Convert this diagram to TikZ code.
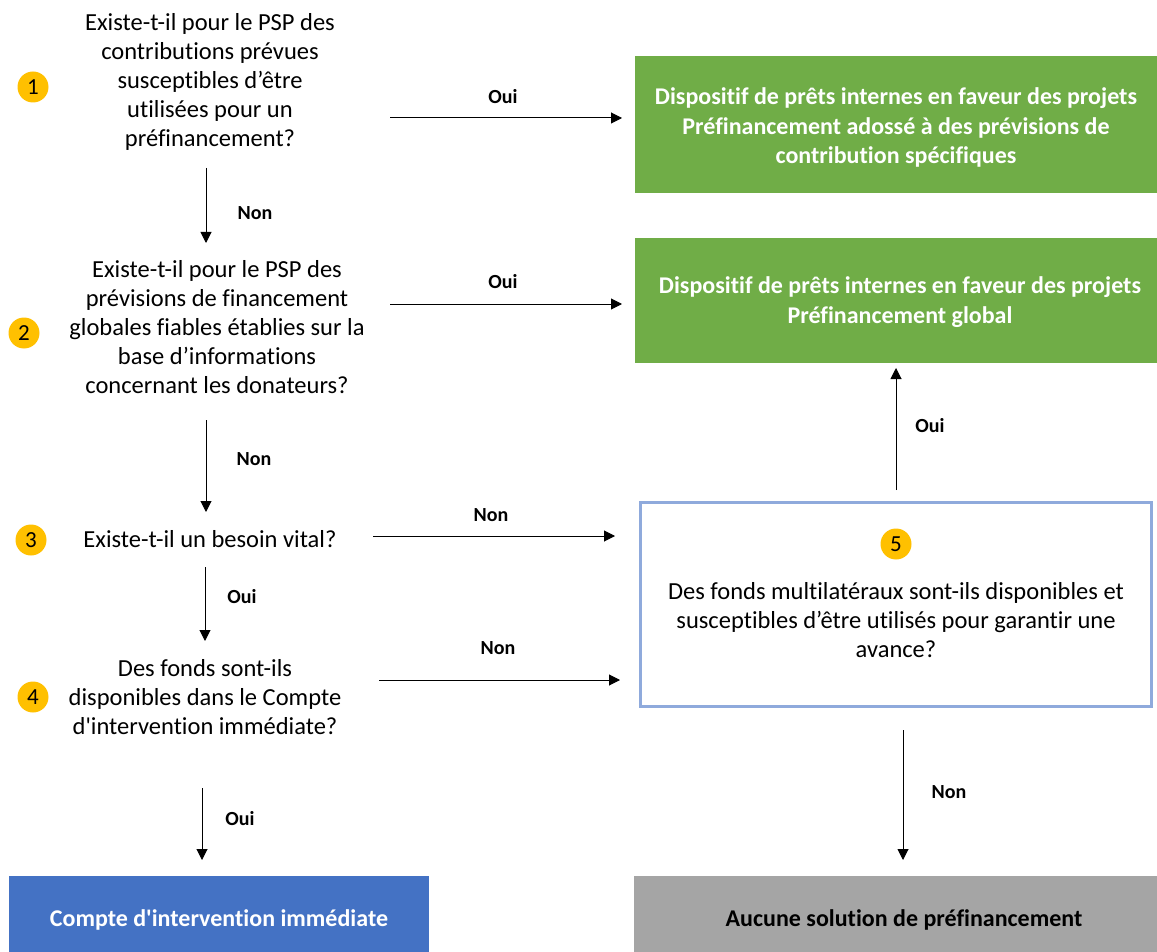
\documentclass[tikz,border=0pt]{standalone}
\usepackage{fontspec}
\setmainfont[Ligatures=NoCommon]{Carlito}
\usetikzlibrary{arrows.meta}
\definecolor{ogreen}{HTML}{70AD47}
\definecolor{oblue}{HTML}{4472C4}
\definecolor{ogray}{HTML}{A5A5A5}
\definecolor{oyellow}{HTML}{FFC000}
\definecolor{oborder}{HTML}{8FAADC}
\begin{document}
\begin{tikzpicture}[x=1pt,y=-1pt,
  q/.style={align=center,font=\fontsize{24.5}{29}\selectfont,inner sep=0pt},
  lbl/.style={font=\bfseries\fontsize{20}{24}\selectfont,inner sep=0pt},
  num/.style={circle,fill=oyellow,minimum size=31pt,inner sep=0pt,font=\fontsize{23}{24}\selectfont},
  res/.style={align=center,font=\bfseries\fontsize{24}{29.5}\selectfont,inner sep=0pt},
  arr/.style={-{Triangle[length=11pt,width=11pt]},line width=1pt}
]
\useasboundingbox (0,0) rectangle (1157,952);
% result boxes
\node[fill=ogreen,minimum width=522pt,minimum height=137pt,inner sep=0pt] (g1) at (896,124.5) {};
\node[res,text=white] (g1t) at (896,127.5) {Dispositif de prêts internes en faveur des projets\\Préfinancement adossé à des prévisions de\\contribution spécifiques};
\node[fill=ogreen,minimum width=522pt,minimum height=125pt,inner sep=0pt] (g2) at (896,300.5) {};
\node[res,text=white] (g2t) at (900,302) {Dispositif de prêts internes en faveur des projets\\Préfinancement global};
\node[draw=oborder,line width=3pt,fill=white,minimum width=511pt,minimum height=204pt,inner sep=0pt] (b5) at (896,604.5) {};
\node[num] (n5) at (896,544) {5};
\node[q] (q5) at (896,620) {Des fonds multilatéraux sont-ils disponibles et\\susceptibles d’être utilisés pour garantir une\\avance?};
\node[fill=oblue,minimum width=420pt,minimum height=76pt,inner sep=0pt] (cb) at (219,914) {};
\node[res,text=white] (cbt) at (219,920) {Compte d\textquotesingle intervention immédiate};
\node[fill=ogray,minimum width=523pt,minimum height=76pt,inner sep=0pt] (gb) at (895.5,914) {};
\node[res,text=black] (gbt) at (904,920) {Aucune solution de préfinancement};
% questions
\node[num] (n1) at (33,87) {1};
\node[q] (q1) at (210,82) {Existe-t-il pour le PSP des\\contributions prévues\\susceptibles d’être\\utilisées pour un\\préfinancement?};
\node[num] (n2) at (24,333) {2};
\node[q] (q2) at (217,327) {Existe-t-il pour le PSP des\\prévisions de financement\\globales fiables établies sur la\\base d’informations\\concernant les donateurs?};
\node[num] (n3) at (31,540) {3};
\node[q] (q3) at (210,539) {Existe-t-il un besoin vital?};
\node[num] (n4) at (33,697) {4};
\node[q] (q4) at (205,697) {Des fonds sont-ils\\disponibles dans le Compte\\d\textquotesingle intervention immédiate?};
% connector end points
\coordinate (a1s) at (390,118); \coordinate (a1e) at (622,118);
\coordinate (a2s) at (390,304); \coordinate (a2e) at (622,304);
\coordinate (a3s) at (373,536); \coordinate (a3e) at (615,536);
\coordinate (a4s) at (379,680); \coordinate (a4e) at (620,680);
\coordinate (d1s) at (206,168); \coordinate (d1e) at (206,243);
\coordinate (d2s) at (206,420); \coordinate (d2e) at (206,512);
\coordinate (d3s) at (205,567); \coordinate (d3e) at (205,641);
\coordinate (d4s) at (202,788); \coordinate (d4e) at (202,860);
\coordinate (u5s) at (896,490); \coordinate (u5e) at (896,368);
\coordinate (d5s) at (903,730); \coordinate (d5e) at (903,860);
% connectors
\draw[arr] (a1s) -- (a1e);
\draw[arr] (a2s) -- (a2e);
\draw[arr] (a3s) -- (a3e);
\draw[arr] (a4s) -- (a4e);
\draw[arr] (d1s) -- (d1e);
\draw[arr] (d2s) -- (d2e);
\draw[arr] (d3s) -- (d3e);
\draw[arr] (d4s) -- (d4e);
\draw[arr] (u5s) -- (u5e);
\draw[arr] (d5s) -- (d5e);
% labels
\node[lbl] (l1) at (503,97) {Oui};
\node[lbl] (l2) at (503,282) {Oui};
\node[lbl] (l3) at (491,515) {Non};
\node[lbl] (l4) at (498,648) {Non};
\node[lbl] (l5) at (255,213) {Non};
\node[lbl] (l6) at (254,459) {Non};
\node[lbl] (l7) at (242,597) {Oui};
\node[lbl] (l8) at (240,819) {Oui};
\node[lbl] (l9) at (930,426) {Oui};
\node[lbl] (l10) at (949,792) {Non};
\end{tikzpicture}
\end{document}
